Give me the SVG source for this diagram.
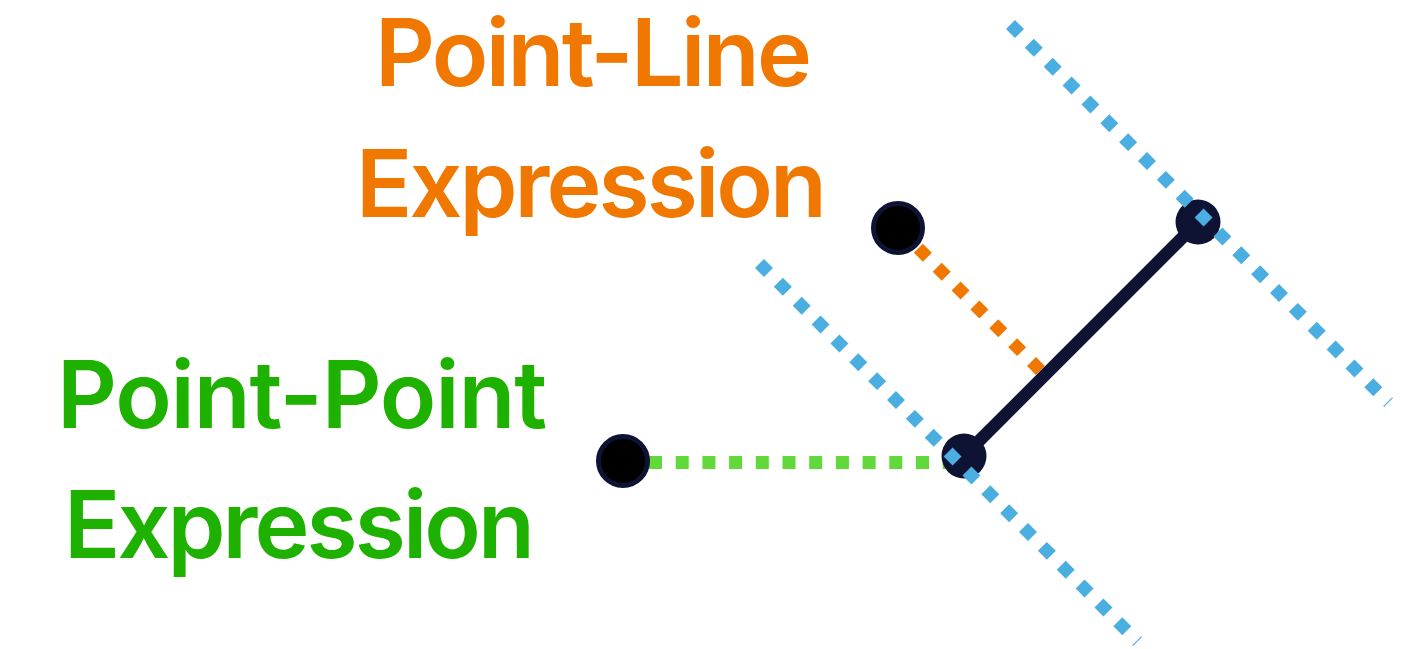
<svg xmlns="http://www.w3.org/2000/svg" width="1424" height="649" viewBox="0 0 1424 649">
<style>
.lbl{font-family:Inter,Lato,"Liberation Sans",sans-serif;font-weight:600;font-size:93px}
.orange{fill:#f07800}
.green{fill:#1eb100}
.blue{stroke:#4aaee0;stroke-width:12.7;stroke-dasharray:12.7 13.97;fill:none}
.ptdot{fill:#000;stroke:#0e1233;stroke-width:5}
.end{fill:#0e1233}
</style>
<rect width="1424" height="649" fill="#fff"/>
<g id="labels">
<text class="lbl orange" x="375" y="86" textLength="437">Point-Line</text>
<text class="lbl orange" x="356" y="217" textLength="471">Expression</text>
<text class="lbl green" x="57" y="428" textLength="490">Point-Point</text>
<text class="lbl green" x="64" y="558" textLength="471">Expression</text>
</g>
<g id="connectors">
<line x1="622.3" y1="462.5" x2="963" y2="462.5" stroke="#62d93a" stroke-width="13" stroke-dasharray="13 13.7"/>
<line x1="899.5" y1="229.5" x2="1044.5" y2="374.5" stroke="#f07800" stroke-width="12.7" stroke-dasharray="12.7 13.97"/>
<line x1="964" y1="456" x2="1198" y2="222" stroke="#0e1233" stroke-width="12.5"/>
</g>
<g id="segment-ends">
<circle class="end" cx="964" cy="456" r="22.5"/>
<circle class="end" cx="1198" cy="222" r="22.5"/>
</g>
<g id="point-line-dot"><circle class="ptdot" cx="898" cy="228" r="24.5"/></g>
<g id="point-point-dot"><circle class="ptdot" cx="623" cy="461" r="24.5"/></g>
<g id="perpendiculars">
<line class="blue" x1="1010.5" y1="24.5" x2="1388.5" y2="402.5"/>
<line class="blue" x1="759.5" y1="263.5" x2="1137.5" y2="641.5"/>
</g>
</svg>
